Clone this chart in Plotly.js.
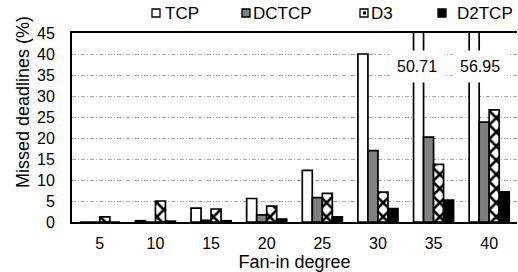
<!DOCTYPE html>
<html>
<head>
<meta charset="utf-8">
<script src="https://cdn.plot.ly/plotly-3.0.1.min.js"></script>
<style>html,body{margin:0;padding:0;background:#fff;}#chart{width:518px;height:272px;}</style>
</head>
<body>
<div id="chart"></div>
<script>
// ---- data ----
const categories = ['5', '10', '15', '20', '25', '30', '35', '40'];
const seriesNames = ['TCP', 'DCTCP', 'D3', 'D2TCP'];
const tcp   = [0,   0.3, 3.3, 5.6, 12.3, 40.0, 50.71, 56.95];
const dctcp = [0,   0,   0.4, 1.7, 5.8,  17.0, 20.2,  23.8];
const d3    = [1.2, 5.0, 3.1, 3.8, 6.8,  7.1,  13.7,  26.7];
const d2tcp = [0,   0.2, 0.3, 0.7, 1.2,  3.2,  5.2,   7.2];
const yTicks = [0, 5, 10, 15, 20, 25, 30, 35, 40, 45];
const brokenLabels = [{cat: '35', text: '50.71', xshift: -17}, {cat: '40', text: '56.95', xshift: -9}];

const font = 'Liberation Sans, Arial, sans-serif';
const line = {color: '#000', width: 1.7};

const traces = [
  {name: seriesNames[0], y: tcp, marker: {color: '#ffffff', line: line}},
  {name: seriesNames[1], y: dctcp, marker: {color: '#808080', line: line}},
  {name: seriesNames[2], y: d3, marker: {color: '#ffffff', line: line,
     pattern: {shape: 'x', size: 10, solidity: 0.45, fgcolor: '#000', bgcolor: '#fff', fillmode: 'replace'}}},
  {name: seriesNames[3], y: d2tcp, marker: {color: '#000000', line: line}}
].map(t => Object.assign({type: 'bar', x: categories, showlegend: false, hoverinfo: 'skip'}, t));

// plot geometry helpers (pixels -> paper)
const L = 72, R = 1, T = 33, B = 50, W = 518, H = 272;
const pw = W - L - R, ph = H - T - B;
const px = v => (v - L) / pw;
const py = v => (H - B - v) / ph;

// custom legend
const legendItems = [
  {sx: 152, tx: 163, fill: '#fff'},
  {sx: 242, tx: 251, fill: '#808080'},
  {sx: 360, tx: 369, fill: '#fff', pat: true},
  {sx: 438, tx: 455, fill: '#000'}
];
const shapes = [];
const annotations = [];
legendItems.forEach((it, i) => {
  shapes.push({type: 'rect', xref: 'paper', yref: 'paper', x0: px(it.sx), x1: px(it.sx + 8), y0: py(17), y1: py(9),
    fillcolor: it.fill, line: {color: '#000', width: 1.3}});
  if (it.pat) {
    shapes.push({type: 'rect', xref: 'paper', yref: 'paper', x0: px(it.sx + 3), x1: px(it.sx + 6), y0: py(14.5), y1: py(11.5),
      fillcolor: '#000', line: {width: 0}});
  }
  annotations.push({xref: 'paper', yref: 'paper', x: px(it.tx), y: py(13), xanchor: 'left', yanchor: 'middle',
    text: seriesNames[i], showarrow: false, font: {family: font, size: 17, color: '#000'}});
});

brokenLabels.forEach(b => {
  annotations.push({xref: 'x', yref: 'y', x: categories.indexOf(b.cat), y: 37, xshift: b.xshift, text: b.text, showarrow: false,
    bgcolor: '#fff', borderpad: 7, font: {family: font, size: 16, color: '#000'}});
});

annotations.push({xref: 'paper', yref: 'paper', x: px(23), y: py(102), xanchor: 'center', yanchor: 'middle',
  textangle: -90, text: 'Missed deadlines (%)',
  showarrow: false, font: {family: font, size: 18, color: '#000'}});

const layout = {
  width: W, height: H,
  margin: {l: L, r: R, t: T, b: B, pad: 0},
  paper_bgcolor: '#fff', plot_bgcolor: '#fff',
  font: {family: font, size: 16, color: '#000'},
  barmode: 'group', bargap: 0.28, bargroupgap: 0,
  xaxis: {type: 'category', range: [-0.5, categories.length - 0.5], showline: true, linecolor: '#000', linewidth: 2, mirror: true, layer: 'below traces',
    ticks: '', ticklabelstandoff: 6, showgrid: false, zeroline: false,
    title: {text: 'Fan-in degree', font: {size: 18}, standoff: 4}},
  yaxis: {range: [0, 45], tickvals: yTicks, showline: true, linecolor: '#000', linewidth: 2,
    ticks: '', ticklabelstandoff: 12, showgrid: true, gridcolor: '#a8a8a8', gridwidth: 1, griddash: '4px,2px,1px,2px',
    zeroline: false},
  shapes: shapes,
  annotations: annotations
};

Plotly.newPlot('chart', traces, layout, {displayModeBar: false, staticPlot: true});
</script>
</body>
</html>
